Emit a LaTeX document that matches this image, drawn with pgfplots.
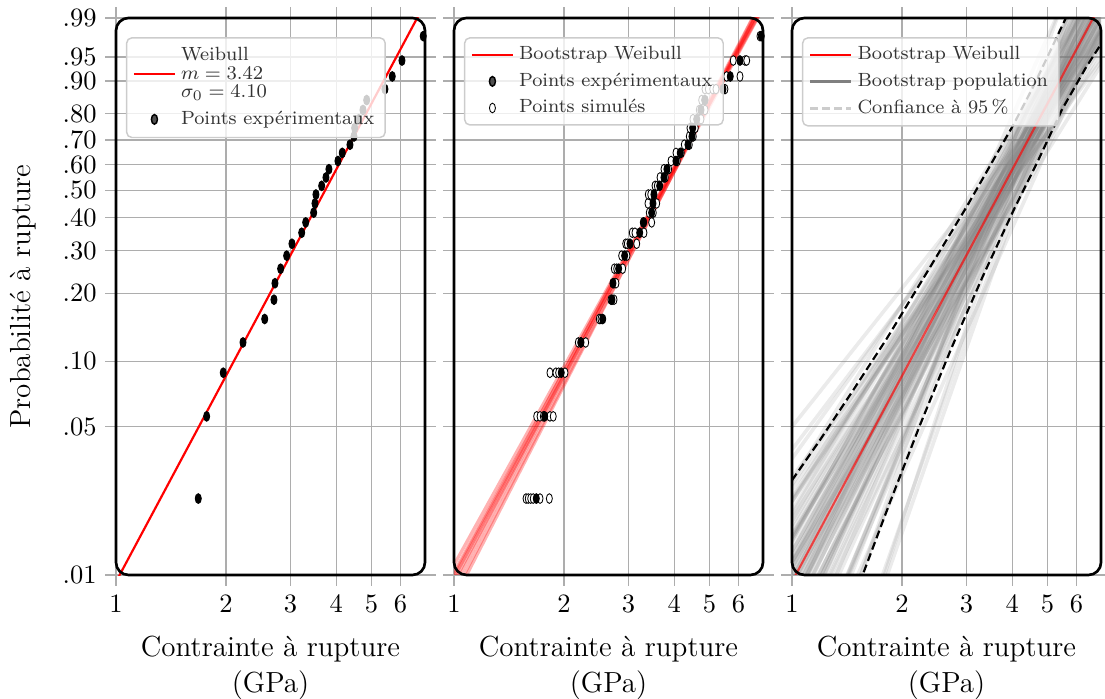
\documentclass[border=0pt]{standalone}
\usepackage{pgfplots}
\usepackage{pgfplotstable}
\pgfplotsset{compat=1.18}

\pgfplotstableread{
x y
1.679 -3.7594
1.770 -2.8552
1.965 -2.3750
2.225 -2.0420
2.551 -1.7841
2.704 -1.5719
2.721 -1.3904
2.820 -1.2307
2.929 -1.0873
3.029 -0.9563
3.220 -0.8352
3.302 -0.7218
3.472 -0.6146
3.501 -0.5125
3.523 -0.4144
3.652 -0.3193
3.752 -0.2270
3.823 -0.1362
4.046 -0.0462
4.157 0.0432
4.364 0.1330
4.475 0.2240
4.495 0.3171
4.610 0.4136
4.736 0.5152
4.848 0.6243
5.439 0.7448
5.695 0.8842
6.055 1.0591
6.922 1.3273
}\exppts

\pgfplotstableread{
x y
1.574 -3.7594
1.596 -3.7594
1.621 -3.7594
1.647 -3.7594
1.719 -3.7594
1.823 -3.7594
1.683 -2.8552
1.719 -2.8552
1.755 -2.8552
1.830 -2.8552
1.868 -2.8552
1.830 -2.3750
1.900 -2.3750
1.933 -2.3750
2.012 -2.3750
2.188 -2.0420
2.221 -2.0420
2.292 -2.0420
2.496 -1.7841
2.523 -1.7841
2.687 -1.5719
2.739 -1.5719
2.739 -1.3904
2.773 -1.3904
2.744 -1.2307
2.786 -1.2307
2.893 -1.2307
2.874 -1.0873
2.972 -1.0873
2.948 -0.9563
2.978 -0.9563
3.160 -0.9563
3.073 -0.8352
3.125 -0.8352
3.308 -0.8352
3.293 -0.7218
3.472 -0.7218
3.420 -0.6146
3.508 -0.6146
3.392 -0.5125
3.584 -0.5125
3.399 -0.4144
3.451 -0.4144
3.546 -0.3193
3.597 -0.3193
3.660 -0.2270
3.783 -0.2270
3.753 -0.1362
3.865 -0.1362
3.922 -0.0462
4.080 -0.0462
4.046 0.0432
4.183 0.0432
4.264 0.1330
4.400 0.1330
4.400 0.2240
4.512 0.2240
4.419 0.3171
4.569 0.3171
4.503 0.4136
4.736 0.4136
4.686 0.5152
4.858 0.5152
4.757 0.6243
4.858 0.6243
4.858 0.7448
4.960 0.7448
5.099 0.7448
5.205 0.7448
5.508 0.7448
5.568 0.8842
6.055 0.8842
5.803 1.0591
6.250 1.0591
6.316 1.0591
6.867 1.3273
}\simpts

\tikzset{
  grayline/.style={gray, opacity=0.16, line width=1.5pt},
  redline/.style={red, opacity=0.3, line width=1.3pt},
}

\begin{document}
\begin{tikzpicture}

% ---------------- Panel 1
\begin{axis}[
    at={(0pt,0pt)}, anchor=south west,
    scale only axis, width=127.69pt, height=230.17pt,
    xmode=log, xmin=1, xmax=7, ymin=-4.60015, ymax=1.52718,
    xtick={1,2,3,4,5,6}, xticklabels={1,2,3,4,5,6},
    ytick={-4.60015,-2.97020,-2.25037,-1.49994,-1.03093,-0.67173,-0.36651,-0.08742,0.18563,0.47588,0.83403,1.09719,1.52718},
    yticklabels={.01,.05,.10,.20,.30,.40,.50,.60,.70,.80,.90,.95,.99},
    grid=major, major grid style={black!32, line width=0.5pt},
    tick align=outside, xtick pos=both, ytick pos=both, major tick length=4.5pt, minor tick length=0pt,
    tick style={black!32, line width=0.5pt},
    axis line style={draw=none},
    tick label style={font=\fontsize{10.95}{13}\selectfont},
    label style={font=\fontsize{12}{14.5}\selectfont},
    xlabel={Contrainte à rupture\\(GPa)}, xlabel style={align=center}, xlabel shift=3pt,
    ylabel={Probabilité à rupture}, ylabel shift=4pt,
    legend cell align=left,
    legend style={at={(0,1)}, anchor=north west, xshift=4.1pt, yshift=-7.9pt,
      draw=black!20, line width=0.6pt, rounded corners=2.2pt,
      fill=white, fill opacity=0.8, text opacity=1, text=black!80,
      font=\fontsize{7.9}{7.6}\selectfont, inner xsep=2.5pt, inner ysep=2pt},
  ]
\addlegendimage{red, line width=0.9pt}
\addlegendentry{\begin{tabular}[b]{@{}l@{}}Weibull\\$m = 3.42$\\$\sigma_0 = 4.10$\end{tabular}}
\addlegendimage{only marks, mark=*, mark size=2pt, mark options={xscale=0.62, draw=black, fill=black!85}}
\addlegendentry{Points expérimentaux}
\addplot[red, line width=0.9pt, forget plot] coordinates {(1,-4.675) (7,1.688)};
\addplot[only marks, mark=*, mark size=2pt, mark options={xscale=0.62, draw=black, fill=black}, forget plot] table[x=x, y=y] {\exppts};
\end{axis}
\draw[black, line width=1.1pt, rounded corners=5.2pt] (0pt,0pt) rectangle (127.69pt,230.17pt);

% ---------------- Panel 2
\begin{axis}[
    at={(139.67pt,0pt)}, anchor=south west,
    scale only axis, width=127.69pt, height=230.17pt,
    xmode=log, xmin=1, xmax=7, ymin=-4.60015, ymax=1.52718,
    xtick={1,2,3,4,5,6}, xticklabels={1,2,3,4,5,6},
    ytick={-4.60015,-2.97020,-2.25037,-1.49994,-1.03093,-0.67173,-0.36651,-0.08742,0.18563,0.47588,0.83403,1.09719,1.52718},
    yticklabels={},
    grid=major, major grid style={black!32, line width=0.5pt},
    tick align=outside, xtick pos=both, ytick pos=both, major tick length=4.5pt, minor tick length=0pt,
    tick style={black!32, line width=0.5pt},
    axis line style={draw=none},
    tick label style={font=\fontsize{10.95}{13}\selectfont},
    label style={font=\fontsize{12}{14.5}\selectfont},
    xlabel={Contrainte à rupture\\(GPa)}, xlabel style={align=center}, xlabel shift=3pt,
    legend cell align=left,
    legend style={at={(0,1)}, anchor=north west, xshift=4.1pt, yshift=-7.9pt,
      draw=black!20, line width=0.6pt, rounded corners=2.2pt,
      fill=white, fill opacity=0.8, text opacity=1, text=black!80,
      font=\fontsize{7.9}{7.6}\selectfont, inner xsep=2.5pt, inner ysep=1.5pt},
  ]
\addlegendimage{red, line width=0.9pt}
\addlegendentry{Bootstrap Weibull}
\addlegendimage{only marks, mark=*, mark size=2pt, mark options={xscale=0.62, draw=black, fill=black!85}}
\addlegendentry{Points expérimentaux}
\addlegendimage{only marks, mark=*, mark size=2pt, mark options={xscale=0.62, draw=black, fill=white, line width=0.35pt}}
\addlegendentry{Points simulés}
\addplot[redline, forget plot] coordinates {(1,-4.676) (7,1.687)};
\addplot[redline, forget plot] coordinates {(1,-4.489) (7,1.641)};
\addplot[redline, forget plot] coordinates {(1,-4.872) (7,1.744)};
\addplot[redline, forget plot] coordinates {(1,-4.630) (7,1.635)};
\addplot[redline, forget plot] coordinates {(1,-4.732) (7,1.748)};
\addplot[redline, forget plot] coordinates {(1,-4.570) (7,1.657)};
\addplot[redline, forget plot] coordinates {(1,-4.811) (7,1.708)};
\addplot[redline, forget plot] coordinates {(1,-4.601) (7,1.704)};
\addplot[only marks, mark=*, mark size=2pt, mark options={xscale=0.62, draw=black, fill=white, line width=0.35pt}, forget plot] table[x=x, y=y] {\simpts};
\addplot[only marks, mark=*, mark size=2pt, mark options={xscale=0.62, draw=black, fill=black}, forget plot] table[x=x, y=y] {\exppts};
\end{axis}
\draw[black, line width=1.1pt, rounded corners=5.2pt] (139.67pt,0pt) rectangle (267.36pt,230.17pt);

% ---------------- Panel 3
\begin{axis}[
    at={(279.34pt,0pt)}, anchor=south west,
    scale only axis, width=127.69pt, height=230.17pt,
    xmode=log, xmin=1, xmax=7, ymin=-4.60015, ymax=1.52718,
    xtick={1,2,3,4,5,6}, xticklabels={1,2,3,4,5,6},
    ytick={-4.60015,-2.97020,-2.25037,-1.49994,-1.03093,-0.67173,-0.36651,-0.08742,0.18563,0.47588,0.83403,1.09719,1.52718},
    yticklabels={},
    grid=major, major grid style={black!32, line width=0.5pt},
    tick align=outside, xtick pos=both, ytick pos=both, major tick length=4.5pt, minor tick length=0pt,
    tick style={black!32, line width=0.5pt},
    axis line style={draw=none},
    tick label style={font=\fontsize{10.95}{13}\selectfont},
    label style={font=\fontsize{12}{14.5}\selectfont},
    xlabel={Contrainte à rupture\\(GPa)}, xlabel style={align=center}, xlabel shift=3pt,
    legend cell align=left,
    legend style={at={(0,1)}, anchor=north west, xshift=4.1pt, yshift=-7.9pt,
      draw=black!20, line width=0.6pt, rounded corners=2.2pt,
      fill=white, fill opacity=0.8, text opacity=1, text=black!80,
      font=\fontsize{7.9}{7.6}\selectfont, inner xsep=2.5pt, inner ysep=1.5pt},
  ]
\addlegendimage{red, line width=0.9pt}
\addlegendentry{Bootstrap Weibull}
\addlegendimage{gray, line width=1.1pt}
\addlegendentry{Bootstrap population}
\addlegendimage{black!20, line width=0.9pt, dash pattern=on 3.3pt off 1.7pt}
\addlegendentry{Confiance à 95\,\%}
\addplot[grayline, forget plot] coordinates {(1,-6.744) (7,2.898)};
\addplot[grayline, forget plot] coordinates {(1,-6.275) (7,2.442)};
\addplot[grayline, forget plot] coordinates {(1,-6.105) (7,2.190)};
\addplot[grayline, forget plot] coordinates {(1,-6.028) (7,1.983)};
\addplot[grayline, forget plot] coordinates {(1,-6.038) (7,1.762)};
\addplot[grayline, forget plot] coordinates {(1,-4.991) (7,2.637)};
\addplot[grayline, forget plot] coordinates {(1,-5.260) (7,2.222)};
\addplot[grayline, forget plot] coordinates {(1,-5.311) (7,2.043)};
\addplot[grayline, forget plot] coordinates {(1,-5.344) (7,1.895)};
\addplot[grayline, forget plot] coordinates {(1,-5.388) (7,1.748)};
\addplot[grayline, forget plot] coordinates {(1,-5.482) (7,1.560)};
\addplot[grayline, forget plot] coordinates {(1,-4.666) (7,2.289)};
\addplot[grayline, forget plot] coordinates {(1,-4.853) (7,2.020)};
\addplot[grayline, forget plot] coordinates {(1,-4.924) (7,1.871)};
\addplot[grayline, forget plot] coordinates {(1,-4.977) (7,1.744)};
\addplot[grayline, forget plot] coordinates {(1,-5.040) (7,1.611)};
\addplot[grayline, forget plot] coordinates {(1,-5.160) (7,1.425)};
\addplot[grayline, forget plot] coordinates {(1,-4.431) (7,2.088)};
\addplot[grayline, forget plot] coordinates {(1,-4.579) (7,1.878)};
\addplot[grayline, forget plot] coordinates {(1,-4.647) (7,1.746)};
\addplot[grayline, forget plot] coordinates {(1,-4.705) (7,1.629)};
\addplot[grayline, forget plot] coordinates {(1,-4.772) (7,1.502)};
\addplot[grayline, forget plot] coordinates {(1,-4.910) (7,1.305)};
\addplot[grayline, forget plot] coordinates {(1,-4.224) (7,1.933)};
\addplot[grayline, forget plot] coordinates {(1,-4.344) (7,1.757)};
\addplot[grayline, forget plot] coordinates {(1,-4.406) (7,1.636)};
\addplot[grayline, forget plot] coordinates {(1,-4.459) (7,1.525)};
\addplot[grayline, forget plot] coordinates {(1,-4.523) (7,1.400)};
\addplot[grayline, forget plot] coordinates {(1,-4.686) (7,1.179)};
\addplot[grayline, forget plot] coordinates {(1,-4.011) (7,1.792)};
\addplot[grayline, forget plot] coordinates {(1,-4.104) (7,1.638)};
\addplot[grayline, forget plot] coordinates {(1,-4.152) (7,1.524)};
\addplot[grayline, forget plot] coordinates {(1,-4.192) (7,1.416)};
\addplot[grayline, forget plot] coordinates {(1,-4.245) (7,1.291)};
\addplot[grayline, forget plot] coordinates {(1,-4.451) (7,1.007)};
\addplot[grayline, forget plot] coordinates {(1,-3.739) (7,1.636)};
\addplot[grayline, forget plot] coordinates {(1,-3.785) (7,1.492)};
\addplot[grayline, forget plot] coordinates {(1,-3.788) (7,1.375)};
\addplot[grayline, forget plot] coordinates {(1,-3.758) (7,1.253)};
\addplot[grayline, forget plot] coordinates {(1,-3.657) (7,1.091)};
\addplot[grayline, forget plot] coordinates {(1,-7.427) (7,2.215)};
\addplot[grayline, forget plot] coordinates {(1,-6.538) (7,2.180)};
\addplot[grayline, forget plot] coordinates {(1,-6.087) (7,2.209)};
\addplot[grayline, forget plot] coordinates {(1,-5.747) (7,2.265)};
\addplot[grayline, forget plot] coordinates {(1,-5.425) (7,2.373)};
\addplot[grayline, forget plot] coordinates {(1,-6.220) (7,1.408)};
\addplot[grayline, forget plot] coordinates {(1,-5.737) (7,1.745)};
\addplot[grayline, forget plot] coordinates {(1,-5.497) (7,1.856)};
\addplot[grayline, forget plot] coordinates {(1,-5.295) (7,1.943)};
\addplot[grayline, forget plot] coordinates {(1,-5.100) (7,2.036)};
\addplot[grayline, forget plot] coordinates {(1,-4.868) (7,2.174)};
\addplot[grayline, forget plot] coordinates {(1,-5.556) (7,1.399)};
\addplot[grayline, forget plot] coordinates {(1,-5.249) (7,1.624)};
\addplot[grayline, forget plot] coordinates {(1,-5.063) (7,1.732)};
\addplot[grayline, forget plot] coordinates {(1,-4.901) (7,1.820)};
\addplot[grayline, forget plot] coordinates {(1,-4.735) (7,1.916)};
\addplot[grayline, forget plot] coordinates {(1,-4.518) (7,2.067)};
\addplot[grayline, forget plot] coordinates {(1,-5.150) (7,1.369)};
\addplot[grayline, forget plot] coordinates {(1,-4.910) (7,1.546)};
\addplot[grayline, forget plot] coordinates {(1,-4.748) (7,1.643)};
\addplot[grayline, forget plot] coordinates {(1,-4.604) (7,1.730)};
\addplot[grayline, forget plot] coordinates {(1,-4.449) (7,1.825)};
\addplot[grayline, forget plot] coordinates {(1,-4.225) (7,1.991)};
\addplot[grayline, forget plot] coordinates {(1,-4.825) (7,1.332)};
\addplot[grayline, forget plot] coordinates {(1,-4.622) (7,1.478)};
\addplot[grayline, forget plot] coordinates {(1,-4.474) (7,1.568)};
\addplot[grayline, forget plot] coordinates {(1,-4.336) (7,1.648)};
\addplot[grayline, forget plot] coordinates {(1,-4.183) (7,1.741)};
\addplot[grayline, forget plot] coordinates {(1,-3.934) (7,1.931)};
\addplot[grayline, forget plot] coordinates {(1,-4.518) (7,1.285)};
\addplot[grayline, forget plot] coordinates {(1,-4.336) (7,1.407)};
\addplot[grayline, forget plot] coordinates {(1,-4.191) (7,1.486)};
\addplot[grayline, forget plot] coordinates {(1,-4.051) (7,1.558)};
\addplot[grayline, forget plot] coordinates {(1,-3.892) (7,1.644)};
\addplot[grayline, forget plot] coordinates {(1,-3.571) (7,1.887)};
\addplot[grayline, forget plot] coordinates {(1,-4.160) (7,1.214)};
\addplot[grayline, forget plot] coordinates {(1,-3.971) (7,1.306)};
\addplot[grayline, forget plot] coordinates {(1,-3.800) (7,1.362)};
\addplot[grayline, forget plot] coordinates {(1,-3.607) (7,1.404)};
\addplot[grayline, forget plot] coordinates {(1,-3.321) (7,1.427)};
\addplot[grayline, forget plot] coordinates {(1,-2.970) (7,1.311)};
\addplot[grayline, forget plot] coordinates {(1,-3.220) (7,1.256)};
\addplot[grayline, forget plot] coordinates {(1,-7.685) (7,2.628)};
\addplot[grayline, forget plot] coordinates {(1,-7.600) (7,2.130)};
\addplot[grayline, forget plot] coordinates {(1,-3.525) (7,1.048)};
\addplot[red, opacity=0.65, line width=0.9pt, forget plot] coordinates {(1,-4.675) (7,1.688)};
\addplot[black, line width=0.9pt, dash pattern=on 3.3pt off 1.7pt, forget plot] coordinates {
(1.0,-3.558) (1.1928,-3.115) (1.4710,-2.565) (1.8221,-1.991) (2.3396,-1.27) (3.0051,-0.548) (4.0290,0.350) (4.5692,0.772) (5.5778,1.506) (6.0,1.783)};
\addplot[black, line width=0.9pt, dash pattern=on 3.3pt off 1.7pt, forget plot] coordinates {
(1.4918,-4.82) (1.5667,-4.581) (1.8534,-3.80) (2.2390,-2.95) (2.7183,-2.12) (3.3201,-1.32) (4.0552,-0.57) (4.7115,-0.04) (5.4739,0.52) (6.3598,0.98) (7.0,1.24)};
\end{axis}
\draw[black, line width=1.1pt, rounded corners=5.2pt] (279.34pt,0pt) rectangle (407.03pt,230.17pt);

\pgfresetboundingbox
\useasboundingbox (-47.93pt,-51.24pt) rectangle (408.68pt,237.6pt);
\end{tikzpicture}
\end{document}
